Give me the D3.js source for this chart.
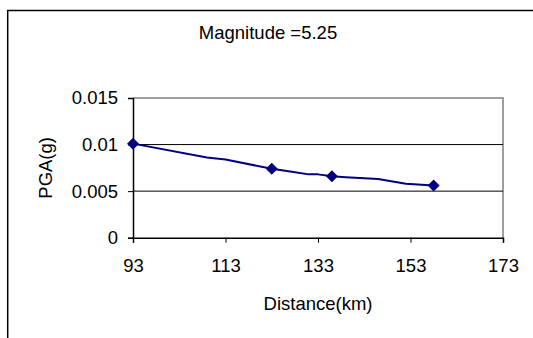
<!DOCTYPE html>
<html>
<head>
<meta charset="utf-8">
<script src="https://cdn.jsdelivr.net/npm/d3@7"></script>
<style>
  html, body { margin: 0; padding: 0; background: #fff; }
  svg { display: block; }
  text { font-family: Arial, "Liberation Sans", sans-serif; fill: #000; }
</style>
</head>
<body>
<svg id="chart" width="533" height="338"></svg>
<script>
// Attenuation curve for a magnitude 5.25 event
const title = "Magnitude =5.25";
const xLabel = "Distance(km)";
const yLabel = "PGA(g)";

// Curve samples (km, g)
const curveDistance = [93, 109, 113, 123, 127, 131, 133, 136, 139, 146, 152, 158];
const curvePGA = [0.0101, 0.0086, 0.0084, 0.0074, 0.0071, 0.0068, 0.0068, 0.0066, 0.0065, 0.0063, 0.0058, 0.0056];

// Marked stations (km, g)
const stationDistance = [93, 123, 136, 158];
const stationPGA = [0.0101, 0.0074, 0.0066, 0.0056];

// Axis ticks
const xTicks = [93, 113, 133, 153, 173];
const yTicks = [0, 0.005, 0.01, 0.015];
const yTickLabels = ["0", "0.005", "0.01", "0.015"];

const svg = d3.select("#chart");
const fontSize = 18.5;

const plot = { left: 133, right: 503, top: 98, bottom: 237.7 };

const x = d3.scaleLinear().domain([93, 173]).range([plot.left, plot.right]);
const y = d3.scaleLinear().domain([0, 0.015]).range([plot.bottom, plot.top]);

// Outer chart frame (runs off the right and bottom edges)
svg.append("rect")
  .attr("x", 7.7).attr("y", 10.5)
  .attr("width", 600).attr("height", 400)
  .attr("fill", "none").attr("stroke", "#000").attr("stroke-width", 1.5);

// Title
svg.append("text")
  .attr("x", 268).attr("y", 39)
  .attr("text-anchor", "middle")
  .style("font-size", fontSize + "px")
  .text(title);

// Plot area border (top and right in grey)
svg.append("path")
  .attr("d", `M${plot.left},${plot.top}H${plot.right}V${plot.bottom}`)
  .attr("fill", "none").attr("stroke", "#808080").attr("stroke-width", 1.5);

// Horizontal gridlines
svg.append("g")
  .selectAll("line")
  .data(yTicks.filter(v => v > 0 && v < 0.015))
  .join("line")
  .attr("x1", plot.left).attr("x2", plot.right)
  .attr("y1", d => y(d)).attr("y2", d => y(d))
  .attr("stroke", "#000").attr("stroke-width", 1);

// Y axis
const yAxis = d3.axisLeft(y)
  .tickValues(yTicks)
  .tickFormat((d, i) => yTickLabels[i])
  .tickSize(5)
  .tickPadding(10);
const gy = svg.append("g")
  .attr("transform", `translate(${plot.left},0)`)
  .call(yAxis);
gy.select(".domain").attr("stroke", "#000").attr("stroke-width", 1.5);
gy.selectAll(".tick line").attr("stroke", "#000").attr("stroke-width", 1);
gy.selectAll(".tick text")
  .style("font-size", fontSize + "px")
  .style("font-family", "Arial, 'Liberation Sans', sans-serif")
  .attr("fill", "#000");

// X axis
const xAxis = d3.axisBottom(x)
  .tickValues(xTicks)
  .tickFormat(d3.format("d"))
  .tickSize(5)
  .tickPadding(16);
const gx = svg.append("g")
  .attr("transform", `translate(0,${plot.bottom})`)
  .call(xAxis);
gx.select(".domain").attr("stroke", "#000").attr("stroke-width", 1.5);
gx.selectAll(".tick line").attr("stroke", "#000").attr("stroke-width", 1);
gx.selectAll(".tick text")
  .style("font-size", fontSize + "px")
  .style("font-family", "Arial, 'Liberation Sans', sans-serif")
  .attr("fill", "#000");

// Axis titles
svg.append("text")
  .attr("x", (plot.left + plot.right) / 2).attr("y", 310)
  .attr("text-anchor", "middle")
  .style("font-size", fontSize + "px")
  .text(xLabel);

svg.append("text")
  .attr("transform", `translate(52,${(plot.top + plot.bottom) / 2}) rotate(-90)`)
  .attr("text-anchor", "middle")
  .style("font-size", fontSize + "px")
  .text(yLabel);

// Attenuation curve
const curve = curveDistance.map((d, i) => [d, curvePGA[i]]);
svg.append("path")
  .datum(curve)
  .attr("d", d3.line().x(d => x(d[0])).y(d => y(d[1])))
  .attr("fill", "none").attr("stroke", "#000080").attr("stroke-width", 2)
  .attr("stroke-linejoin", "round");

// Station markers (diamonds)
const stations = stationDistance.map((d, i) => [d, stationPGA[i]]);
svg.append("g")
  .selectAll("path")
  .data(stations)
  .join("path")
  .attr("transform", d => `translate(${x(d[0])},${y(d[1])})`)
  .attr("d", "M0,-6L6,0L0,6L-6,0Z")
  .attr("fill", "#000080");
</script>
</body>
</html>
